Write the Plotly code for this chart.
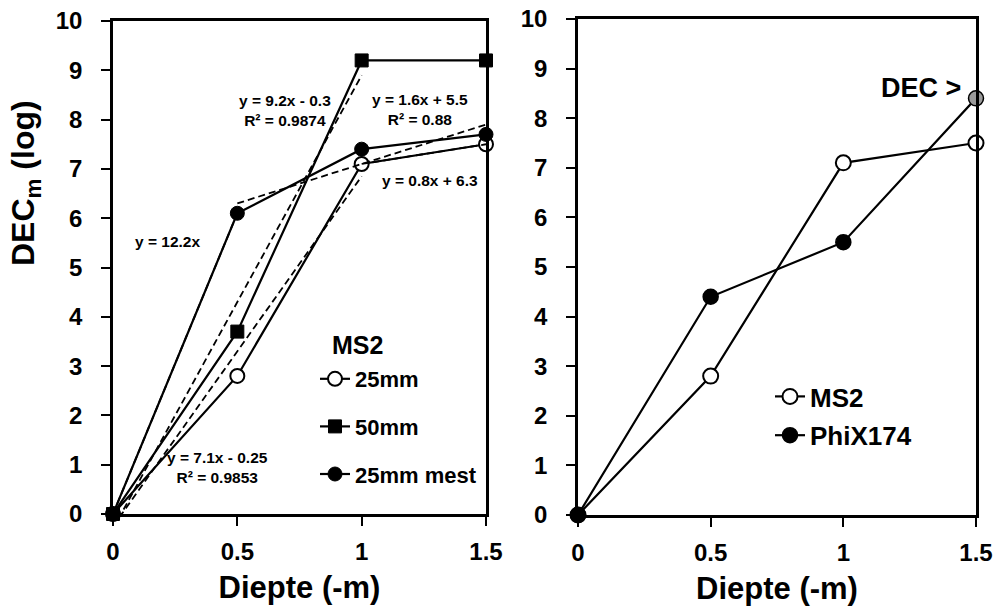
import plotly.graph_objects as go

FONT = "Liberation Sans, Arial, sans-serif"

# depth below surface (m)
depth = [0, 0.5, 1, 1.5]

# left panel: MS2 log reduction for three filter setups
ms2_25mm = [0, 2.8, 7.1, 7.5]
ms2_50mm = [0, 3.7, 9.2, 9.2]
ms2_25mm_mest = [0, 6.1, 7.4, 7.7]

# right panel: MS2 vs PhiX174
ms2 = [0, 2.8, 7.1, 7.5]
phix174 = [0, 4.4, 5.5, 8.4]

# linear fits drawn as dashed lines: slope, intercept, R², x-span
fit_slope = [12.2, 1.6, 9.2, 7.1, 0.8]
fit_intercept = [0.0, 5.5, -0.3, -0.25, 6.3]
fit_r2 = [None, 0.88, 0.9874, 0.9853, None]
fit_span = [(0, 0.5), (0.5, 1.5), (0, 1), (0, 1), (1, 1.5)]

y_ticks = list(range(0, 11))
x_ticks = [0, 0.5, 1, 1.5]
x_ticktext = ["0", "0.5", "1", "1.5"]


def fit_text(m, b, r2):
    s = f"y = {m}x"
    if b > 0:
        s += f" + {b}"
    elif b < 0:
        s += f" - {abs(b)}"
    if r2 is not None:
        s += f"<br>R² = {r2}"
    return s


def bold(size):
    return dict(family=FONT, size=size, color="black", weight="bold")


fig = go.Figure()

line = dict(color="black", width=2.2)

# measured series, left panel
fig.add_trace(go.Scatter(
    x=depth, y=ms2_25mm, mode="lines+markers", name="25mm",
    line=line, legend="legend", legendgroup="a",
    marker=dict(symbol="circle", size=14, color="white",
                line=dict(color="black", width=2)),
    cliponaxis=False, xaxis="x", yaxis="y"))
fig.add_trace(go.Scatter(
    x=depth, y=ms2_50mm, mode="lines+markers", name="50mm",
    line=line, legend="legend", legendgroup="b",
    marker=dict(symbol="square", size=13, color="black",
                line=dict(color="black", width=1)),
    cliponaxis=False, xaxis="x", yaxis="y"))
fig.add_trace(go.Scatter(
    x=depth, y=ms2_25mm_mest, mode="lines+markers", name="25mm mest",
    line=line, legend="legend", legendgroup="c",
    marker=dict(symbol="circle", size=14, color="black",
                line=dict(color="black", width=1)),
    cliponaxis=False, xaxis="x", yaxis="y"))

# dashed trend lines
for m, b, (x0, x1) in zip(fit_slope, fit_intercept, fit_span):
    fig.add_trace(go.Scatter(
        x=[x0, x1], y=[m * x0 + b, m * x1 + b], mode="lines",
        line=dict(color="black", width=1.8, dash="7px,4px"),
        showlegend=False, hoverinfo="skip", xaxis="x", yaxis="y"))

# right panel
fig.add_trace(go.Scatter(
    x=depth, y=ms2, mode="lines+markers", name="MS2",
    line=line, legend="legend2", legendgroup="d",
    marker=dict(symbol="circle", size=15, color="white",
                line=dict(color="black", width=2)),
    cliponaxis=False, xaxis="x2", yaxis="y2"))
fig.add_trace(go.Scatter(
    x=depth, y=phix174, mode="lines+markers", name="PhiX174",
    line=line, legend="legend2", legendgroup="e",
    marker=dict(symbol="circle", size=15,
                color=["black", "black", "black", "#9a9a9a"],
                line=dict(color="black", width=1.5)),
    cliponaxis=False, xaxis="x2", yaxis="y2"))

# fit equation labels
label_pos = [(0.22, 5.52), (1.233, 8.2), (0.69, 8.19), (0.42, 0.95), (1.273, 6.77)]
for (m, b, r2), (lx, ly) in zip(zip(fit_slope, fit_intercept, fit_r2), label_pos):
    fig.add_annotation(x=lx, y=ly, xref="x", yref="y", text=fit_text(m, b, r2),
                       showarrow=False, font=bold(15.5),
                       xanchor="center", yanchor="middle")

fig.add_annotation(x=0.3587, y=0.4326, xref="paper", yref="paper", text="MS2",
                   showarrow=False, font=bold(25),
                   xanchor="center", yanchor="middle")
fig.add_annotation(x=1.293, y=8.61, xref="x2", yref="y2", text="DEC >",
                   showarrow=False, font=bold(27),
                   xanchor="center", yanchor="middle")
fig.add_annotation(x=25 / 998, y=(608 - 183) / 608, xref="paper", yref="paper",
                   text="DEC<sub>m</sub> (log)", textangle=-90,
                   showarrow=False, font=bold(32),
                   xanchor="center", yanchor="middle")

axis_common = dict(
    showline=True, linecolor="black", linewidth=2.6, mirror=True,
    showgrid=False, zeroline=False, ticks="outside", ticklen=9,
    tickwidth=2.2, tickcolor="black", automargin=False,
    tickfont=bold(24),
)

xaxis_common = dict(
    axis_common, range=[0, 1.5], tickvals=x_ticks, ticktext=x_ticktext,
    ticklabelstandoff=5,
    title=dict(text="Diepte (-m)", font=bold(31), standoff=13),
)
yaxis_common = dict(
    axis_common, range=[0, 10], tickvals=y_ticks,
    ticktext=[str(t) for t in y_ticks],
    ticklabelstandoff=14,
)

fig.update_layout(
    width=998, height=608,
    margin=dict(l=0, r=0, t=0, b=0, autoexpand=False),
    paper_bgcolor="white", plot_bgcolor="white",
    xaxis=dict(xaxis_common, domain=[113 / 998, 486 / 998], anchor="y"),
    yaxis=dict(yaxis_common, domain=[94 / 608, 587 / 608], anchor="x"),
    xaxis2=dict(xaxis_common, domain=[578 / 998, 976 / 998], anchor="y2"),
    yaxis2=dict(yaxis_common, domain=[93 / 608, 589 / 608], anchor="x2"),
    legend=dict(x=315 / 998, y=(608 - 358) / 608, xanchor="left", yanchor="top",
                font=bold(22),
                bgcolor="rgba(0,0,0,0)", tracegroupgap=16, traceorder="grouped",
                itemwidth=30),
    legend2=dict(x=770 / 998, y=(608 - 373) / 608, xanchor="left", yanchor="top",
                 font=bold(26),
                 bgcolor="rgba(0,0,0,0)", tracegroupgap=2, traceorder="grouped",
                 itemwidth=30),
    showlegend=True,
)

fig.write_html("out.html")
